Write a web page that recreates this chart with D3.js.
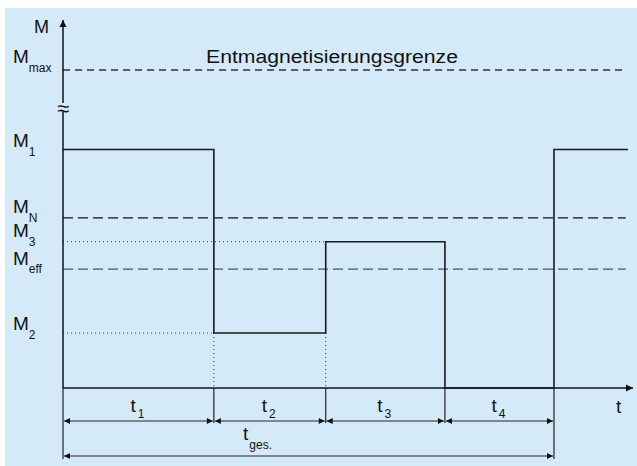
<!DOCTYPE html>
<html>
<head>
<meta charset="utf-8">
<script src="https://cdn.jsdelivr.net/npm/d3@7"></script>
<style>
  body { margin: 0; background: #fff; }
  svg { display: block; font-family: 'Liberation Sans', Arial, sans-serif; }
</style>
</head>
<body>
<div id="container"></div>
<script>
/* CONSTANTS AND GLOBALS */
const width = 637,
  height = 466

// level values (M max = 1, relative units)
const levels = [
  { key: 'max', value: 1.0, sub: 'max', style: 'dash' },
  { key: '1', value: 0.75, sub: '1', style: 'none' },
  { key: 'N', value: 0.535, sub: 'N', style: 'dashN' },
  { key: '3', value: 0.46, sub: '3', style: 'none' },
  { key: 'eff', value: 0.374, sub: 'eff', style: 'dashEff' },
  { key: '2', value: 0.173, sub: '2', style: 'none' }
]

// time boundaries of the intervals t1..t4 (relative units)
const tBounds = [0, 2.67, 4.65, 6.76, 8.69]
const intervalLabels = ['1', '2', '3', '4']

// load profile: [time, M]
const profile = [
  [0, 0.75], [2.67, 0.75], [2.67, 0.173], [4.65, 0.173], [4.65, 0.46],
  [6.76, 0.46], [6.76, 0], [8.69, 0], [8.69, 0.75], [10, 0.75]
]

// dotted helper lines: M3, M2 and the verticals below M2
const dotted = [
  [[0, 0.46], [4.65, 0.46]],
  [[0, 0.173], [2.67, 0.173]],
  [[2.67, 0.173], [2.67, 0]],
  [[4.65, 0.173], [4.65, 0]]
]

const xScale = d3.scaleLinear().domain([0, 10]).range([63, 628])
const yScale = d3.scaleLinear().domain([0, 1]).range([388, 70])

const bg = '#d5eaf8'
const ink = '#111'

const svg = d3.select('#container')
  .append('svg')
  .attr('width', width)
  .attr('height', height)

const defs = svg.append('defs')
function marker(id, path) {
  defs.append('marker')
    .attr('id', id)
    .attr('viewBox', '0 0 10 10')
    .attr('refX', 10).attr('refY', 5)
    .attr('markerWidth', 10).attr('markerHeight', 10)
    .attr('markerUnits', 'userSpaceOnUse')
    .attr('orient', 'auto-start-reverse')
    .append('path')
    .attr('d', path)
    .attr('fill', ink)
}
marker('arr', 'M3,1.5 L10,5 L3,8.5 Z')
marker('dimArr', 'M4,2 L10,5 L4,8 Z')

// background
svg.append('rect')
  .attr('x', 5).attr('y', 8)
  .attr('width', width - 5).attr('height', height - 8)
  .attr('fill', bg)

// + REFERENCE LINES
const dashStyles = { dash: '7,5', dashN: '10,5', dashEff: '10,5' }
const dashColors = { dash: '#333', dashN: '#111', dashEff: '#4d5358' }
svg.selectAll('line.ref')
  .data(levels.filter(d => d.style !== 'none'))
  .join('line')
  .attr('class', 'ref')
  .attr('x1', xScale(0)).attr('x2', xScale(9.96))
  .attr('y1', d => yScale(d.value)).attr('y2', d => yScale(d.value))
  .attr('stroke', d => dashColors[d.style])
  .attr('stroke-width', 1.3)
  .attr('stroke-dasharray', d => dashStyles[d.style])

svg.selectAll('line.dot')
  .data(dotted)
  .join('line')
  .attr('class', 'dot')
  .attr('x1', d => xScale(d[0][0])).attr('y1', d => yScale(d[0][1]))
  .attr('x2', d => xScale(d[1][0])).attr('y2', d => yScale(d[1][1]))
  .attr('stroke', '#333')
  .attr('stroke-width', 1)
  .attr('stroke-dasharray', '1,3')

// + AXES
svg.append('line')
  .attr('x1', xScale(0)).attr('y1', yScale(0))
  .attr('x2', xScale(0)).attr('y2', 20)
  .attr('stroke', ink).attr('stroke-width', 1.5)
  .attr('marker-end', 'url(#arr)')

svg.append('line')
  .attr('x1', xScale(0)).attr('y1', yScale(0))
  .attr('x2', 633).attr('y2', yScale(0))
  .attr('stroke', ink).attr('stroke-width', 1.5)
  .attr('marker-end', 'url(#arr)')

// axis break symbol
svg.append('rect')
  .attr('x', xScale(0) - 6).attr('y', 103)
  .attr('width', 12).attr('height', 9)
  .attr('fill', bg)
svg.append('text')
  .attr('x', xScale(0)).attr('y', 116)
  .attr('text-anchor', 'middle')
  .attr('font-size', 22)
  .attr('fill', ink)
  .text('≈')

// + SIGNAL
svg.append('path')
  .datum(profile)
  .attr('d', d3.line().x(d => xScale(d[0])).y(d => yScale(d[1])))
  .attr('fill', 'none')
  .attr('stroke', '#1a1a1a')
  .attr('stroke-width', 1.6)

// + LABELS
svg.append('text')
  .attr('x', 34).attr('y', 33)
  .attr('font-size', 18).attr('fill', ink)
  .text('M')

const lab = svg.selectAll('text.mlab')
  .data(levels)
  .join('text')
  .attr('class', 'mlab')
  .attr('x', 13)
  .attr('y', d => yScale(d.value) - (d.key === 'max' ? 7 : d.key === '1' || d.key === '2' ? 2.5 : 4.5))
  .attr('font-size', 19).attr('fill', ink)
lab.append('tspan').text('M')
lab.append('tspan')
  .attr('font-size', 12)
  .attr('dy', 8.5)
  .text(d => d.sub)

svg.append('text')
  .attr('x', 206).attr('y', 63)
  .attr('font-size', 18).attr('fill', ink)
  .attr('textLength', 252)
  .attr('lengthAdjust', 'spacingAndGlyphs')
  .text('Entmagnetisierungsgrenze')

svg.append('text')
  .attr('x', 616).attr('y', 413)
  .attr('font-size', 19).attr('fill', ink)
  .text('t')

// + DIMENSION LINES
const extTicks = [
  { t: tBounds[1], y2: 423 },
  { t: tBounds[2], y2: 423 },
  { t: tBounds[3], y2: 423 },
  { t: tBounds[4], y2: 459 },
  { t: 0, y2: 459 }
]
svg.selectAll('line.ext')
  .data(extTicks)
  .join('line')
  .attr('class', 'ext')
  .attr('x1', d => xScale(d.t)).attr('x2', d => xScale(d.t))
  .attr('y1', yScale(0)).attr('y2', d => d.y2)
  .attr('stroke', '#222').attr('stroke-width', 1.2)

const spans = intervalLabels.map((l, i) => ({ a: tBounds[i], b: tBounds[i + 1], label: l }))
svg.selectAll('line.dim')
  .data(spans)
  .join('line')
  .attr('class', 'dim')
  .attr('x1', d => xScale(d.a) + 1).attr('x2', d => xScale(d.b) - 1)
  .attr('y1', 421).attr('y2', 421)
  .attr('stroke', '#222').attr('stroke-width', 1)
  .attr('marker-start', 'url(#dimArr)')
  .attr('marker-end', 'url(#dimArr)')

const tl = svg.selectAll('text.tlab')
  .data(spans)
  .join('text')
  .attr('class', 'tlab')
  .attr('x', d => (xScale(d.a) + xScale(d.b)) / 2 - 8)
  .attr('y', 412)
  .attr('font-size', 19).attr('fill', ink)
tl.append('tspan').text('t')
tl.append('tspan').attr('font-size', 12).attr('dy', 6).attr('dx', 2).text(d => d.label)

svg.append('line')
  .attr('x1', xScale(0) + 1).attr('x2', xScale(tBounds[4]) - 1)
  .attr('y1', 456).attr('y2', 456)
  .attr('stroke', '#222').attr('stroke-width', 1)
  .attr('marker-start', 'url(#dimArr)')
  .attr('marker-end', 'url(#dimArr)')

const tg = svg.append('text')
  .attr('x', 243).attr('y', 440)
  .attr('font-size', 19).attr('fill', ink)
tg.append('tspan').text('t')
tg.append('tspan').attr('font-size', 12).attr('dy', 9).attr('dx', 1).text('ges.')
</script>
</body>
</html>
